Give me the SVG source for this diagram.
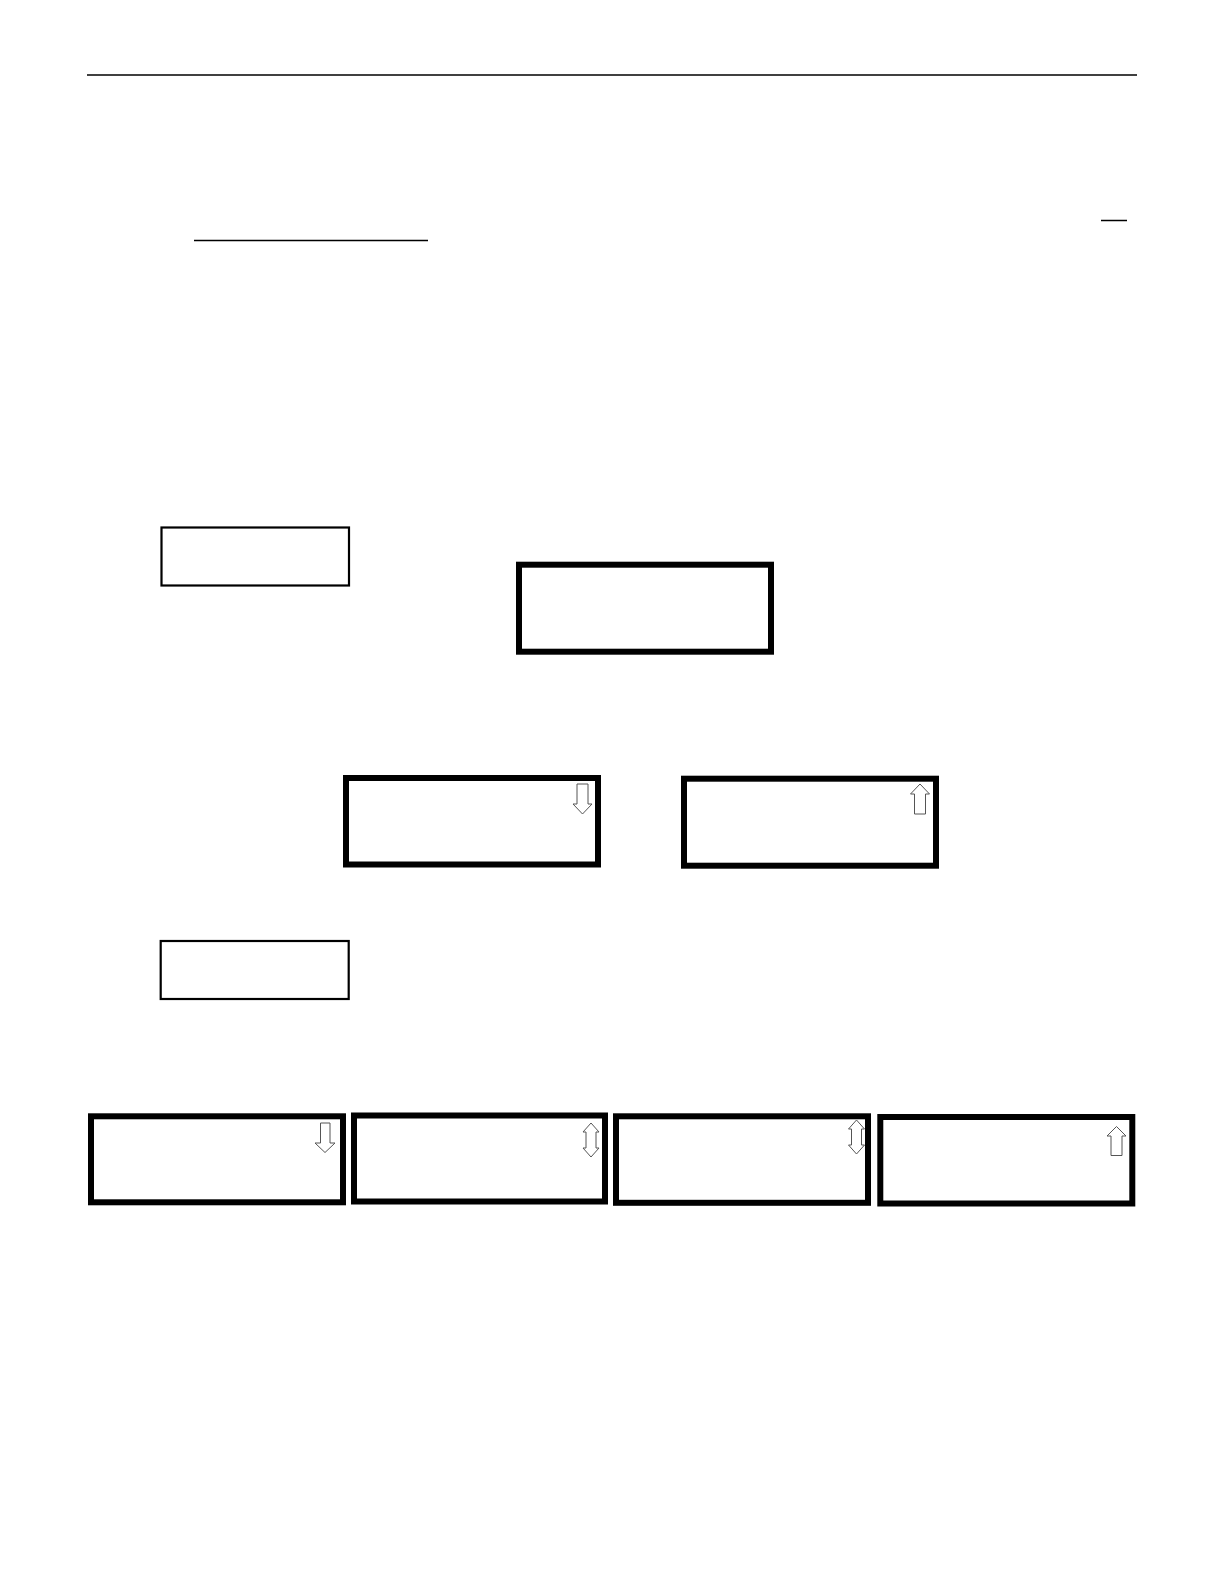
<svg xmlns="http://www.w3.org/2000/svg" width="1224" height="1584" viewBox="0 0 1224 1584">
<style>
.rule{stroke:#000;stroke-width:1.5;fill:none}
.thin{fill:#fff;stroke:#000;stroke-width:2.2}
.thick{fill:#fff;stroke:#000;stroke-width:6}
.arr{fill:#fff;stroke:#555;stroke-width:1}
</style>
<rect width="1224" height="1584" fill="#fff"/>
<g id="page-rules">
<line class="rule" x1="87" y1="75" x2="1137" y2="75"/>
<line class="rule" x1="1101" y1="220.5" x2="1127" y2="220.5"/>
<line class="rule" x1="194" y1="240.5" x2="428" y2="240.5"/>
</g>
<g id="node-small-1"><rect class="thin" x="161.5" y="527.5" width="187.5" height="58"/></g>
<g id="node-display-1"><rect class="thick" x="519" y="564.7" width="252" height="87"/></g>
<g id="node-display-2">
<rect class="thick" x="346" y="778" width="252" height="86.5"/>
<path class="arr" d="M577,784 H588 V804 H592 L582.5,814 L573,804 H577 Z"/>
</g>
<g id="node-display-3">
<rect class="thick" x="684" y="778.7" width="252" height="87"/>
<path class="arr" d="M920,784 L929.5,794 H925.5 V814 H914.5 V794 H910.5 Z"/>
</g>
<g id="node-small-2"><rect class="thin" x="160.7" y="941" width="188" height="58"/></g>
<g id="node-display-4">
<rect class="thick" x="91" y="1116.3" width="252" height="86"/>
<path class="arr" d="M320.5,1123 H330 V1143 H335 L325,1152.5 L315,1143 H320.5 Z"/>
</g>
<g id="node-display-5">
<rect class="thick" x="354" y="1115.5" width="251" height="86"/>
<path class="arr" d="M591,1123 L599,1132 H596 V1148 H599 L591,1157 L583,1148 H586 V1132 H583 Z"/>
</g>
<g id="node-display-6">
<rect class="thick" x="616" y="1116.3" width="252" height="86.5"/>
<path class="arr" d="M856.5,1120 L864.5,1129 H861.5 V1145 H864.5 L856.5,1154 L848.5,1145 H851.5 V1129 H848.5 Z"/>
</g>
<g id="node-display-7">
<rect class="thick" x="880.3" y="1117" width="252" height="86.5"/>
<path class="arr" d="M1116.5,1126.5 L1126,1136 H1122 V1155.5 H1111 V1136 H1107 Z"/>
</g>
<g id="connectors"></g>
</svg>
